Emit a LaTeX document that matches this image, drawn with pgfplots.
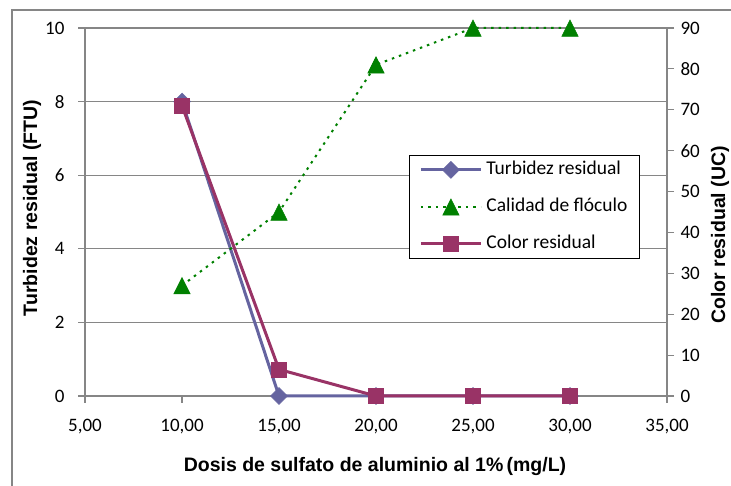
\documentclass[border=0pt]{standalone}
\usepackage{fontspec}
\setmainfont{Carlito}
\newfontfamily\labelfont{Liberation Sans}
\usepackage{pgfplots}
\pgfplotsset{compat=1.18}

\definecolor{turb}{RGB}{101,100,160}
\definecolor{colres}{RGB}{153,51,102}
\definecolor{floc}{RGB}{0,128,0}
\definecolor{gridgray}{RGB}{134,134,134}

\pgfplotsset{
  base/.style={
    scale only axis, width=582bp, height=368bp,
    at={(85bp,90bp)}, anchor=south west,
    xmin=5, xmax=35,
    axis line style={gridgray, line width=1.2bp},
    tick style={gridgray, line width=1.2bp},
    tick align=outside, major tick length=7bp,
    ticklabel style={font=\fontsize{19bp}{22bp}\selectfont, text=black},
    /pgf/number format/assume math mode=true,
    clip=false,
  },
  turbstyle/.style={turb, line width=3bp, mark=square*, mark size=6bp,
    mark options={rotate=45, fill=turb, draw=turb, line width=0.5bp}},
  flocstyle/.style={floc, line width=2bp, dash pattern=on 2.5bp off 5bp,
    mark=triangle*, mark size=9.5bp,
    mark options={solid, yscale=1.15, yshift=-2.5bp, fill=floc, draw=floc, line width=0.5bp}},
  colstyle/.style={colres, line width=3bp, mark=square*, mark size=7.5bp,
    mark options={fill=colres, draw=colres, line width=0.5bp}},
}

\begin{document}
\begin{tikzpicture}[x=1bp,y=1bp]
\useasboundingbox (0,0) rectangle (731,486);
% chart frame
\draw[gridgray, line width=1.2bp] (12,0) -- (12,476) -- (731,476);

% primary axis: turbidity and floc quality
\begin{axis}[base,
  ymin=0, ymax=10, ytick={0,2,...,10},
  axis x line*=bottom, axis y line*=left,
  xtick={5,10,...,35},
  xticklabels={{5,00},{10,00},{15,00},{20,00},{25,00},{30,00},{35,00}},
  xticklabel style={yshift=-13bp},
  yticklabel style={xshift=-10bp},
  ymajorgrids, grid style={gridgray, line width=1.2bp},
]
\addplot[turbstyle] coordinates {(10,8) (15,0) (20,0) (25,0) (30,0)};
\addplot[flocstyle] coordinates {(10,3) (15,5) (20,9) (25,10) (30,10)};
\end{axis}

% secondary axis: residual colour
\begin{axis}[base,
  ymin=0, ymax=90, ytick={0,10,...,90},
  axis x line=none, axis y line*=right,
  yticklabel style={xshift=3bp},
  legend cell align=left,
  legend style={at={(324bp,331bp-90bp)}, anchor=north west,
    draw=black, line width=0.8bp, fill=white,
    font=\fontsize{19.5bp}{22bp}\selectfont,
    inner xsep=10bp, inner ysep=3.5bp, row sep=15bp,
    nodes={inner sep=2bp, text height=14bp, text depth=4bp},
    /tikz/every odd column/.append style={column sep=2bp}},
  legend image code/.code={\draw[mark repeat=2, mark phase=2, #1]
    plot coordinates {(0bp,0bp) (30bp,0bp) (60bp,0bp)};},
]
\addlegendimage{turbstyle}
\addlegendentry{Turbidez residual}
\addlegendimage{flocstyle}
\addlegendentry{Calidad de flóculo}
\addplot[colstyle] coordinates {(10,71) (15,6.5) (20,0) (25,0) (30,0)};
\addlegendentry{Color residual}
\end{axis}

% axis titles
\node[font=\labelfont\bfseries\fontsize{19.5bp}{22bp}\selectfont] at (375,19)
  {Dosis de sulfato de aluminio al 1\%\,(mg/L)};
\node[font=\labelfont\bfseries\fontsize{19.5bp}{22bp}\selectfont, rotate=90] at (32,278)
  {Turbidez residual (FTU)};
\node[font=\labelfont\bfseries\fontsize{19.5bp}{22bp}\selectfont, rotate=90, inner sep=0pt] at (720,251)
  {Color residual (UC)};
\end{tikzpicture}
\end{document}
